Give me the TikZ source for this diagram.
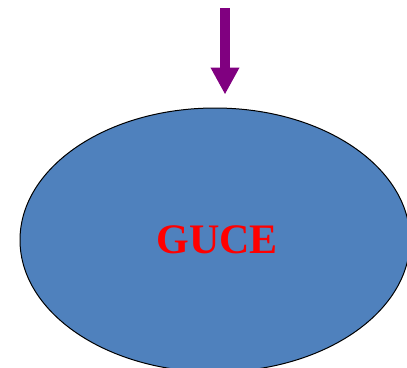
\documentclass[tikz,border=0pt]{standalone}
\usepackage{fontspec}
\setmainfont{Liberation Serif}
\usetikzlibrary{shapes.geometric,arrows.meta}
\definecolor{guceblue}{RGB}{79,129,189}
\definecolor{arrowpurple}{RGB}{128,0,128}

\begin{document}
\begin{tikzpicture}[x=1pt,y=-1pt]
\useasboundingbox (0,0) rectangle (407,367);
\clip (0,0) rectangle (407,367);
\node[ellipse,draw=black,line width=1pt,fill=guceblue,minimum width=390pt,minimum height=264pt,inner sep=0pt] (guce) at (215,240) {};
\node[text=red,font=\fontsize{42}{42}\selectfont\bfseries] (label) at (217,240) {GUCE};
\coordinate (top) at (225,8);
\draw[arrowpurple,line width=10pt,-{Triangle[width=27pt,length=27pt]},shorten >=13pt] (top) -- (top |- guce.north);
\end{tikzpicture}
\end{document}
